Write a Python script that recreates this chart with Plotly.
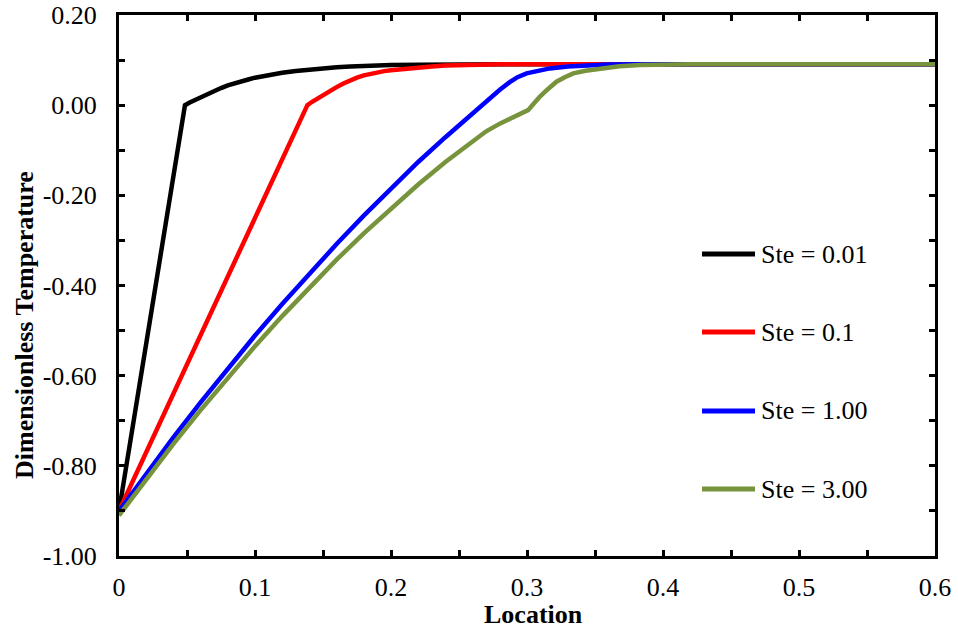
import plotly.graph_objects as go

# Dimensionless temperature profiles for four Stefan numbers
labels = ["Ste = 0.01", "Ste = 0.1", "Ste = 1.00", "Ste = 3.00"]
colors = ["#000000", "#FF0000", "#0000FF", "#77933C"]

x_ste001 = [0, 0.0485, 0.052, 0.056, 0.06, 0.065, 0.07, 0.075, 0.08, 0.085, 0.09, 0.095,
            0.1, 0.11, 0.12, 0.13, 0.14, 0.15, 0.16, 0.17, 0.18, 0.19, 0.2, 0.22, 0.24,
            0.26, 0.28, 0.3, 0.6]
y_ste001 = [-0.90, 0.0, 0.006, 0.012, 0.018, 0.025, 0.032, 0.038, 0.044, 0.049, 0.053, 0.057,
            0.061, 0.067, 0.072, 0.076, 0.0795, 0.082, 0.0843, 0.086, 0.0873, 0.0883, 0.089,
            0.0899, 0.0904, 0.0907, 0.0909, 0.091, 0.091]

x_ste01 = [0, 0.02, 0.045, 0.07, 0.0955, 0.12, 0.134, 0.1365, 0.1385, 0.142, 0.146, 0.15,
           0.155, 0.16, 0.165, 0.17, 0.175, 0.18, 0.185, 0.19, 0.195, 0.2, 0.21, 0.22, 0.23,
           0.24, 0.25, 0.26, 0.28, 0.3, 0.6]
y_ste01 = [-0.90, -0.77, -0.608, -0.445, -0.279, -0.12, -0.029, -0.012, 0.0, 0.0075, 0.015,
           0.023, 0.032, 0.040, 0.048, 0.055, 0.061, 0.066, 0.070, 0.073, 0.0755, 0.0775,
           0.081, 0.0838, 0.086, 0.0878, 0.089, 0.0898, 0.0906, 0.091, 0.091]

x_ste1 = [0, 0.02, 0.04, 0.06, 0.08, 0.1, 0.12, 0.14, 0.16, 0.18, 0.2, 0.22, 0.24, 0.255,
          0.2727, 0.28, 0.2873, 0.293, 0.2997, 0.308, 0.3168, 0.33, 0.3462, 0.36, 0.38, 0.6]
y_ste1 = [-0.90, -0.817, -0.737, -0.6595, -0.584, -0.511, -0.441, -0.373, -0.308, -0.245,
          -0.184, -0.126, -0.071, -0.031, 0.015, 0.034, 0.051, 0.062, 0.0705, 0.077, 0.0815,
          0.0858, 0.0888, 0.0902, 0.091, 0.091]

x_ste3 = [0, 0.02, 0.04, 0.06, 0.08, 0.1, 0.12, 0.14, 0.16, 0.18, 0.2, 0.22, 0.24, 0.26,
          0.27, 0.28, 0.29, 0.2965, 0.3008, 0.3052, 0.3095, 0.3155, 0.3217, 0.3278, 0.334,
          0.343, 0.3536, 0.368, 0.383, 0.4, 0.42, 0.6]
y_ste3 = [-0.91, -0.829, -0.7514, -0.6763, -0.604, -0.5345, -0.4678, -0.4039, -0.3427,
          -0.2844, -0.2288, -0.176, -0.126, -0.0788, -0.058, -0.041, -0.027, -0.017, -0.011,
          0.004, 0.019, 0.036, 0.052, 0.062, 0.0705, 0.0765, 0.0815, 0.0865, 0.0892, 0.0905,
          0.091, 0.091]

series = [(x_ste001, y_ste001), (x_ste01, y_ste01), (x_ste1, y_ste1), (x_ste3, y_ste3)]

x_ticks = [0, 0.1, 0.2, 0.3, 0.4, 0.5, 0.6]
x_tick_text = ["0", "0.1", "0.2", "0.3", "0.4", "0.5", "0.6"]
y_ticks = [-1.0, -0.8, -0.6, -0.4, -0.2, 0.0, 0.2]
y_tick_text = ["-1.00", "-0.80", "-0.60", "-0.40", "-0.20", "0.00", "0.20"]

W, H = 958, 630
L, R, T, B = 119, 23, 15, 74
FONT = "Liberation Serif, Times New Roman, serif"

fig = go.Figure()
for (xs, ys), name, col in zip(series, labels, colors):
    fig.add_trace(go.Scatter(x=xs, y=ys, mode="lines", name=name,
                             line=dict(color=col, width=4.5), showlegend=False))


def px_to_paper(px, py):
    return (px - L) / (W - L - R), (H - B - py) / (H - T - B)


# legend: sample line + label for each series
legend_rows = [254, 332, 411, 489]
for name, col, py in zip(labels, colors, legend_rows):
    x0, y0 = px_to_paper(702, py)
    x1, _ = px_to_paper(755, py)
    fig.add_shape(type="line", xref="paper", yref="paper", x0=x0, x1=x1, y0=y0, y1=y0,
                  line=dict(color=col, width=5))
    tx, ty = px_to_paper(759, py)
    fig.add_annotation(x=tx, y=ty, xref="paper", yref="paper", text=name, showarrow=False,
                       xanchor="left", yanchor="middle",
                       font=dict(family=FONT, size=26, color="black"))

# axis titles
ax_, ay_ = px_to_paper(533, 614)
fig.add_annotation(x=ax_, y=ay_, xref="paper", yref="paper", text="<b>Location</b>",
                   showarrow=False, xanchor="center", yanchor="middle",
                   font=dict(family=FONT, size=26, color="black"))
bx_, by_ = px_to_paper(25, 325)
fig.add_annotation(x=bx_, y=by_, xref="paper", yref="paper",
                   text="<b>Dimensionless Temperature</b>", textangle=-90,
                   showarrow=False, xanchor="center", yanchor="middle",
                   font=dict(family=FONT, size=26, color="black"))

axis_common = dict(showgrid=False, zeroline=False, showline=True, linecolor="black",
                   linewidth=3, mirror="ticks", ticks="inside", ticklen=6, tickwidth=3,
                   tickcolor="black", automargin=False,
                   tickfont=dict(family=FONT, size=26, color="black"))

fig.update_xaxes(range=[0, 0.6], tickvals=x_ticks, ticktext=x_tick_text,
                 minor=dict(dtick=0.05, tick0=0, ticks="inside", ticklen=6, tickwidth=3,
                            tickcolor="black", showgrid=False),
                 ticklabelstandoff=6, **axis_common)
fig.update_yaxes(range=[-1.0, 0.2], tickvals=y_ticks, ticktext=y_tick_text,
                 minor=dict(dtick=0.1, tick0=0, ticks="inside", ticklen=6, tickwidth=3,
                            tickcolor="black", showgrid=False),
                 ticklabelstandoff=14, **axis_common)

fig.update_layout(width=W, height=H, margin=dict(l=L, r=R, t=T, b=B),
                  plot_bgcolor="white", paper_bgcolor="white",
                  font=dict(family=FONT, color="black"))

fig.write_html("out.html")
